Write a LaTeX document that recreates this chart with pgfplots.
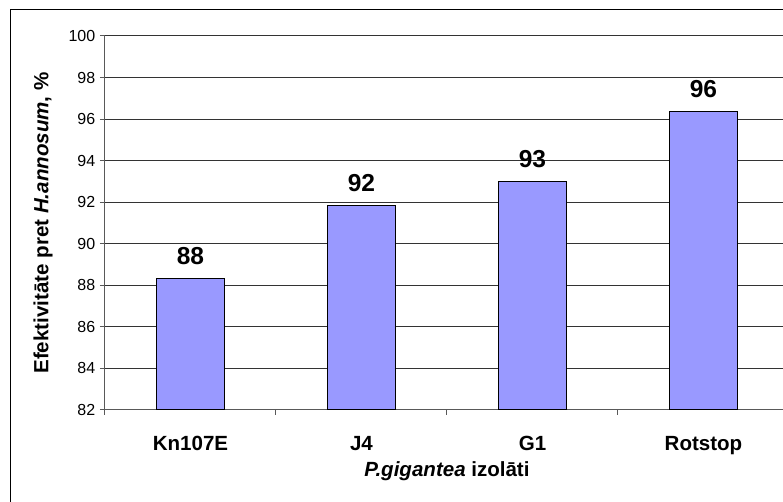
\documentclass[border=0pt]{standalone}
\usepackage{pgfplots}
\pgfplotsset{compat=1.18}
\usepackage{fontspec}
\setmainfont{Liberation Sans}
\definecolor{barblue}{HTML}{9999FF}
\begin{document}
\begin{tikzpicture}[x=1pt,y=1pt]
\useasboundingbox (0,0) rectangle (587.25,376.5);
\clip (0,0) rectangle (587.25,376.5);
\fill[white] (0,0) rectangle (587.25,376.5);
\draw[black, line width=0.75pt] (7.9,-5) -- (7.9,369.4) -- (600,369.4);
\begin{axis}[
  at={(78.75pt,69pt)}, anchor=south west,
  scale only axis, width=513pt, height=280.5pt,
  xmin=-0.5, xmax=3.5, ymin=82, ymax=100,
  ybar, bar width=0.4,
  ytick={82,84,...,100},
  xtick={0,1,2,3}, xticklabels={Kn107E,J4,G1,Rotstop},
  major x tick style={draw=none},
  minor xtick={-0.5,0.5,1.5,2.5,3.5},
  minor x tick style={draw=black!65, line width=0.75pt},
  major y tick style={draw=black!65, line width=0.75pt},
  tick align=outside,
  major tick length=3.75pt, minor tick length=3.75pt,
  axis lines*=left,
  axis line style={draw=black!65, line width=0.75pt},
  ymajorgrids,
  major grid style={draw=black!80, line width=0.75pt},
  /pgf/number format/assume math mode=true,
  /pgf/number format/fixed, /pgf/number format/precision=0,
  yticklabel style={font=\fontsize{12}{14}\selectfont, anchor=east},
  xticklabel style={font=\bfseries\fontsize{15.4}{18}\selectfont, anchor=base, yshift=-26.5pt},
  every axis y label/.style={at={([xshift=-42.4pt]axis description cs:0,0.5)}, rotate=90, anchor=base},
  every axis x label/.style={at={([yshift=-50pt]axis description cs:0.5,0)}, anchor=base},
  ylabel={\bfseries\fontsize{15.4}{18}\selectfont Efektivitāte pret \textit{H.annosum}, \%},
  xlabel={\bfseries\fontsize{15.4}{18}\selectfont\textit{P.gigantea} izolāti},
  nodes near coords,
  nodes near coords style={font=\bfseries\fontsize{18.4}{21}\selectfont, anchor=base, yshift=10.5pt},
]
\addplot[fill=barblue, draw=black, line width=0.75pt] coordinates {(0,88.35) (1,91.83) (2,93.02) (3,96.36)};
\end{axis}
\end{tikzpicture}
\end{document}
